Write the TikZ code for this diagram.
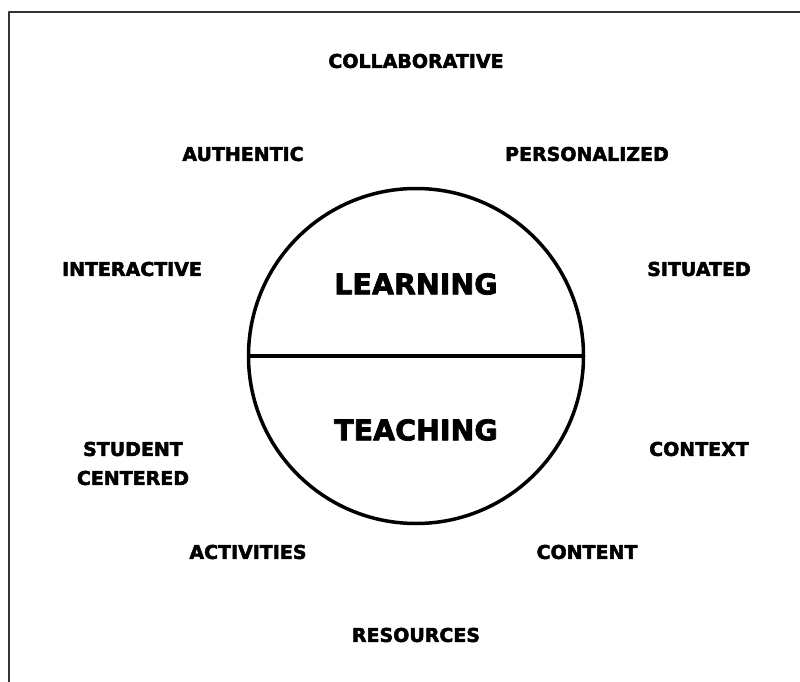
\documentclass[tikz,border=0pt]{standalone}
\usepackage{fontspec}
\setmainfont{DejaVu Sans}[BoldFeatures={FakeBold=2.5}]
\usetikzlibrary{positioning}
\tikzset{el/.style={line cap=round, line join=round},
  tag/.style={font=\bfseries\fontsize{19}{29}\selectfont, align=center, inner sep=0pt},
  big/.style={font=\bfseries\fontsize{28.5}{34}\selectfont, inner sep=0pt}}

\begin{document}
\begin{tikzpicture}[el, x=1pt, y=-1pt]
  \useasboundingbox (0,0) rectangle (800,682);
  \draw[black!80, line width=2pt, line cap=butt] (8.5,682)--(8.5,12)--(800,12);
  % the split disc
  \node[circle, draw, line width=3.5pt, minimum size=335pt, inner sep=0pt] (disc) at (416,356) {};
  \draw[line width=3.5pt, line cap=butt] (disc.west)--(disc.east);
  \node[big] (learn) at (416,284) {LEARNING};
  \node[big] (teach) at (416,430) {TEACHING};
  % words around it
  \foreach \nm/\x/\y/\txt in {collab/416/61/COLLABORATIVE, auth/243/154/AUTHENTIC,
     pers/587/154/PERSONALIZED, inter/132/269/INTERACTIVE, sit/699/269/SITUATED,
     stud/133/463.5/{STUDENT\\CENTERED}, ctx/699/449/CONTEXT, act/248/552/ACTIVITIES,
     cont/587/552/CONTENT, res/416/635/RESOURCES}
     \node[tag] (\nm) at (\x,\y) {\txt};
\end{tikzpicture}
\end{document}
